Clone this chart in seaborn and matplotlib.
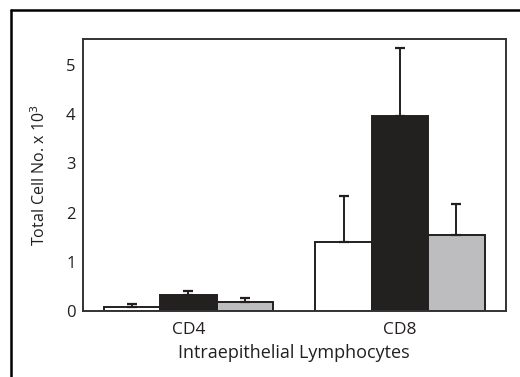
import numpy as np
import pandas as pd
import matplotlib
matplotlib.use("Agg")
import matplotlib.pyplot as plt
from matplotlib.lines import Line2D
import seaborn as sns

# data (units of 10^3 cells)
cell_types = ["CD4", "CD8"]
groups = ["Group 1", "Group 2", "Group 3"]
cd4_means = [0.08, 0.32, 0.18]
cd4_err = [0.07, 0.08, 0.08]
cd8_means = [1.41, 3.97, 1.54]
cd8_err = [0.93, 1.37, 0.63]
yticks = [0, 1, 2, 3, 4, 5]

bar_colors = ["#ffffff", "#231f20", "#bcbdc0"]
ink = "#231f20"

df = pd.DataFrame({
    "cell": np.repeat(cell_types, len(groups)),
    "group": groups * len(cell_types),
    "value": cd4_means + cd8_means,
    "err": cd4_err + cd8_err,
})

sns.set_style("white")
plt.rcParams["font.family"] = ["Open Sans", "DejaVu Sans"]

fig = plt.figure(figsize=(5.2, 3.77), dpi=100)
ax = fig.add_axes([0.159, 0.175, 0.8135, 0.721])

sns.barplot(data=df, x="cell", y="value", hue="group", palette=bar_colors,
            width=0.8, edgecolor=ink, linewidth=1.4, errorbar=None,
            legend=False, ax=ax)

# one-sided (upper) error bars
for cont, g in zip(ax.containers, groups):
    sub = df[df["group"] == g]
    xs = [b.get_x() + b.get_width() / 2 for b in cont]
    hs = [b.get_height() for b in cont]
    ax.errorbar(xs, hs, yerr=[np.zeros(len(xs)), sub["err"].values],
                fmt="none", ecolor=ink, elinewidth=1.4, capsize=3.5,
                capthick=1.6, zorder=1)

ax.set_xlim(-0.5, 1.5)
ax.set_ylim(0, 5.52)
ax.set_yticks(yticks)
ax.tick_params(length=0, labelcolor=ink)
ax.tick_params(axis="y", labelsize=12, pad=5)
ax.tick_params(axis="x", labelsize=12.5, pad=8)
ax.set_xlabel("Intraepithelial Lymphocytes", fontsize=13, color=ink, labelpad=4)
ax.set_ylabel("Total Cell No. x 10$^3$", fontsize=11.5, color=ink, labelpad=12)
for sp in ax.spines.values():
    sp.set_visible(True)
    sp.set_color("#333333")
    sp.set_linewidth(1.4)

# panel frame (top and left edges)
fig.add_artist(Line2D([11 / 520, 1.0], [1 - 10 / 377, 1 - 10 / 377],
                      color="black", lw=1.8, transform=fig.transFigure))
fig.add_artist(Line2D([11 / 520, 11 / 520], [0, 1 - 10 / 377],
                      color="black", lw=1.8, transform=fig.transFigure))

fig.savefig("out.png", dpi=100)
plt.close(fig)
